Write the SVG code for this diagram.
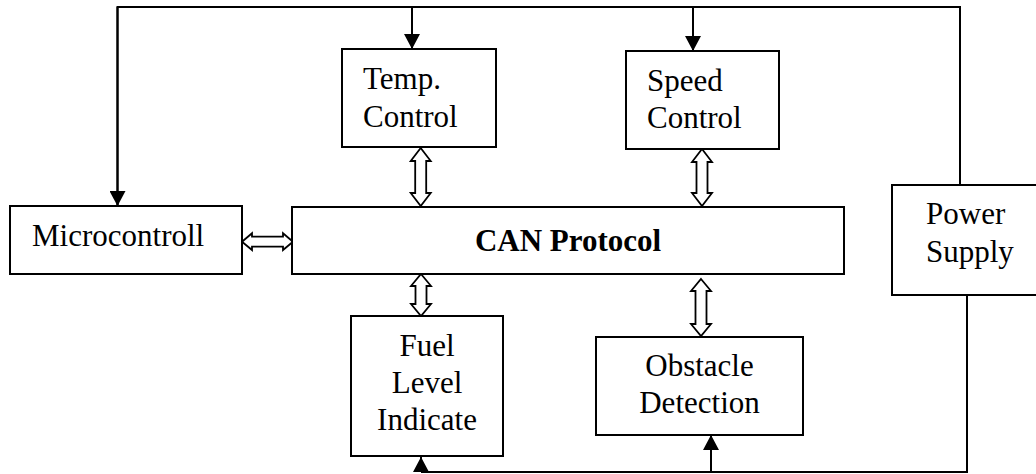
<svg xmlns="http://www.w3.org/2000/svg" width="1036" height="474" viewBox="0 0 1036 474">
<style>
.box{fill:#fff;stroke:#000;stroke-width:2}
.ln{fill:none;stroke:#000;stroke-width:2}
.dbl{fill:#fff;stroke:#000;stroke-width:1.8;stroke-linejoin:miter}
text{font-family:"Liberation Serif","Times New Roman",serif;font-size:31px;fill:#000}
.c{text-anchor:middle}
.b{font-weight:bold}
</style>
<defs>
<marker id="ah" markerUnits="userSpaceOnUse" markerWidth="16" markerHeight="16" viewBox="0 0 16 16" refX="15" refY="8" orient="auto">
<path d="M0,0 L15,8 L0,16 Z" fill="#000"/>
</marker>
</defs>
<g id="connectors">
<polyline class="ln" points="117.5,205 117.5,7 960,7 960,185"/>
<line class="ln" x1="412" y1="7" x2="412" y2="49" marker-end="url(#ah)"/>
<line class="ln" x1="693" y1="7" x2="693" y2="51" marker-end="url(#ah)"/>
<line class="ln" x1="117.5" y1="7" x2="117.5" y2="206" marker-end="url(#ah)"/>
<polyline class="ln" points="967,295 967,472 421,472"/>
<line class="ln" x1="421" y1="472" x2="421" y2="457" marker-end="url(#ah)"/>
<line class="ln" x1="711" y1="472" x2="711" y2="435" marker-end="url(#ah)"/>
<polygon class="dbl" points="420.7,148 430.7,161 426.2,161 426.2,193 430.7,193 420.7,206 410.7,193 415.2,193 415.2,161 410.7,161"/>
<polygon class="dbl" points="702,149 712,162 707.5,162 707.5,193 712,193 702,206 692,193 696.5,193 696.5,162 692,162"/>
<polygon class="dbl" points="421,274 431,286 426.5,286 426.5,304 431,304 421,316 411,304 415.5,304 415.5,286 411,286"/>
<polygon class="dbl" points="701,279 711,291 706.5,291 706.5,324 711,324 701,336 691,324 695.5,324 695.5,291 691,291"/>
<polygon class="dbl" points="242,241.7 252,233.3 252,236.7 283,236.7 283,233.3 293,241.7 283,250 283,246.7 252,246.7 252,250"/>
</g>
<g id="microcontroll">
<rect class="box" x="10" y="206" width="232" height="68"/>
<text x="32" y="246">Microcontroll</text>
</g>
<g id="can">
<rect class="box" x="292" y="207" width="552" height="67"/>
<text class="b" x="568" y="251" text-anchor="middle">CAN Protocol</text>
</g>
<g id="temp">
<rect class="box" x="342" y="49" width="154" height="98"/>
<text x="363" y="89">Temp.</text>
<text x="363" y="127">Control</text>
</g>
<g id="speed">
<rect class="box" x="626" y="51" width="153" height="98"/>
<text x="647" y="91">Speed</text>
<text x="647" y="128">Control</text>
</g>
<g id="power">
<rect class="box" x="892" y="185" width="160" height="110"/>
<text x="926" y="224">Power</text>
<text x="926" y="262">Supply</text>
</g>
<g id="fuel">
<rect class="box" x="351" y="316" width="152" height="140"/>
<text class="c" x="427" y="356">Fuel</text>
<text class="c" x="427" y="393">Level</text>
<text class="c" x="427" y="430">Indicate</text>
</g>
<g id="obstacle">
<rect class="box" x="596" y="337" width="207" height="98"/>
<text class="c" x="699.5" y="376">Obstacle</text>
<text class="c" x="699.5" y="413">Detection</text>
</g>
</svg>
